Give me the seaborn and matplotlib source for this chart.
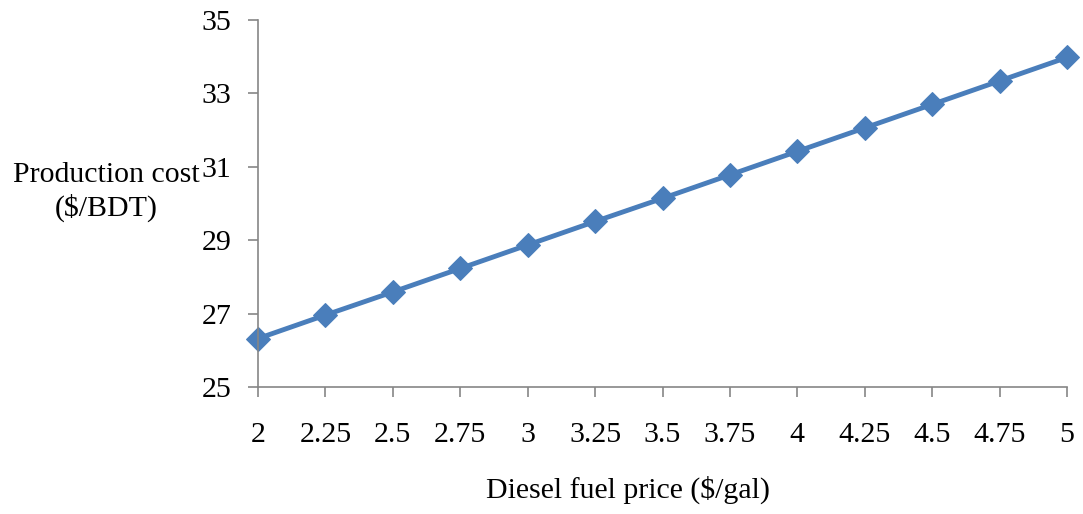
import matplotlib
matplotlib.use("Agg")
import matplotlib.pyplot as plt
import seaborn as sns
import pandas as pd

diesel_price = [2, 2.25, 2.5, 2.75, 3, 3.25, 3.5, 3.75, 4, 4.25, 4.5, 4.75, 5]
price_labels = ["2", "2.25", "2.5", "2.75", "3", "3.25", "3.5", "3.75", "4", "4.25", "4.5", "4.75", "5"]
production_cost = [26.32, 26.96, 27.59, 28.23, 28.87, 29.51, 30.14, 30.78, 31.42, 32.06, 32.70, 33.34, 33.98]
y_ticks = [25, 27, 29, 31, 33, 35]

sns.set_theme(style="white")
plt.rcParams['font.family'] = ['Liberation Serif', 'DejaVu Serif']
plt.rcParams['text.color'] = 'black'

df = pd.DataFrame({"price": diesel_price, "cost": production_cost})

fig = plt.figure(figsize=(10.83, 5.14), dpi=100)
ax = fig.add_axes([258/1083, 1 - 387/514, (1067 - 258)/1083, (387 - 20)/514])

sns.lineplot(data=df, x="price", y="cost", ax=ax, color="#4A7EBB", linewidth=3.5,
             marker="D", markersize=12, markeredgecolor="#4A7EBB", clip_on=False)

ax.set_xlim(2, 5)
ax.set_ylim(25, 35)
ax.set_xticks(diesel_price)
ax.set_xticklabels(price_labels)
ax.set_yticks(y_ticks)
ax.set_yticklabels([str(t) for t in y_ticks])

for s in ["top", "right"]:
    ax.spines[s].set_visible(False)
for s in ["left", "bottom"]:
    ax.spines[s].set_color("#868686")
    ax.spines[s].set_linewidth(1.2)

ax.tick_params(axis="both", which="major", direction="out", length=7, width=1.2,
               color="#868686", labelsize=21.5, labelcolor="black")
ax.tick_params(axis="x", pad=18, bottom=True)
ax.tick_params(axis="y", pad=12, left=True)

ax.set_xlabel("")
ax.set_ylabel("")

fig.text(106/1083, 1 - 192/514, "Production cost\n($/BDT)", ha="center", va="center",
         fontsize=21.5, linespacing=1.3, color="black")
fig.text(628/1083, 1 - 490/514, "Diesel fuel price ($/gal)", ha="center", va="center",
         fontsize=21.5, color="black")

fig.savefig("out.png", dpi=100)
